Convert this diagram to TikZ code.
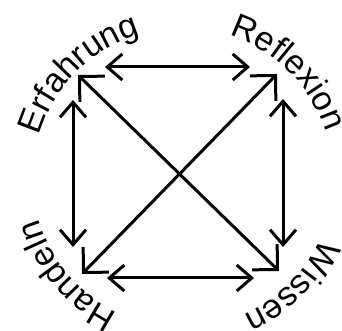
\documentclass[tikz,border=0pt]{standalone}
\usepackage{fontspec}
\setmainfont{Liberation Sans}
\usetikzlibrary{arrows.meta,decorations.text}
\tikzset{
  link/.style={line width=3pt, {Straight Barb[length=15pt,width=26pt,line join=miter]}-{Straight Barb[length=15pt,width=26pt,line join=miter]}},
  diaglink/.style={line width=3pt, {Straight Barb[length=18pt,width=36pt,line join=miter]}-{Straight Barb[length=18pt,width=36pt,line join=miter]}},
  arclabel/.style={decorate, decoration={text along path, text align=center, text={|\fontsize{34}{34}\selectfont|#1}}}
}
\begin{document}
\begin{tikzpicture}[x=1pt,y=1pt]
\useasboundingbox (0,0) rectangle (342,331);
\coordinate (C) at (183,153);
% arrow end points
\coordinate (topL) at (105,264);
\coordinate (topR) at (250,264);
\coordinate (rightT) at (283,232);
\coordinate (rightB) at (283,84);
\coordinate (botL) at (107,53);
\coordinate (botR) at (254,53);
\coordinate (leftT) at (73,231);
\coordinate (leftB) at (73,84);
\coordinate (d1a) at (78,256);
\coordinate (d1b) at (279,60);
\coordinate (d2a) at (277,257);
\coordinate (d2b) at (82,57);
\draw[link] (topL) -- (topR);
\draw[link] (rightT) -- (rightB);
\draw[link] (botL) -- (botR);
\draw[link] (leftT) -- (leftB);
\draw[diaglink] (d1a) -- (d1b);
\draw[diaglink] (d2a) -- (d2b);
% labels on a circle
\path[arclabel={Erfahrung}] (C) ++(200:150) arc[start angle=200, end angle=70, radius=150];
\path[arclabel={Reflexion}] (C) ++(110:150) arc[start angle=110, end angle=-20, radius=150];
\path[arclabel={Wissen}] (C) ++(10:150) arc[start angle=10, end angle=-100, radius=150];
\path[arclabel={Handeln}] (C) ++(-85:150) arc[start angle=-85, end angle=-195, radius=150];
\end{tikzpicture}
\end{document}
